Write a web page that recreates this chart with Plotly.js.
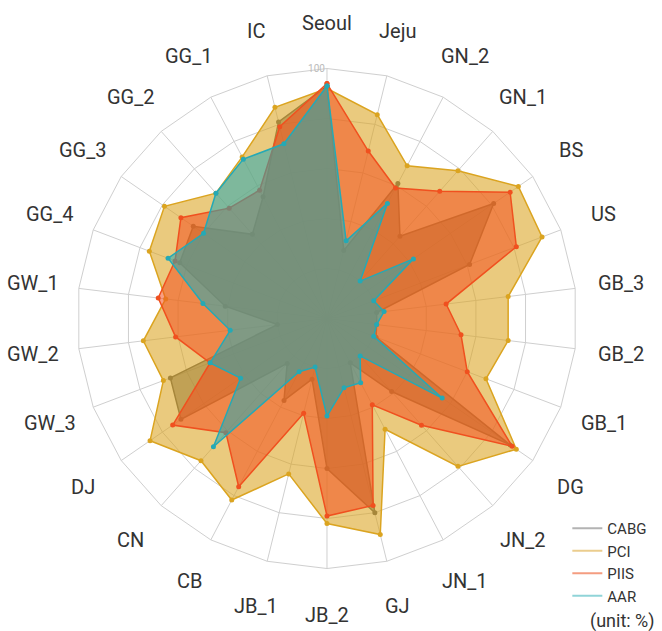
<!DOCTYPE html>
<html><head><meta charset="utf-8">
<script src="https://cdn.plot.ly/plotly-3.0.1.min.js"></script>
<style>html,body{margin:0;padding:0;background:#fff}</style>
</head><body><div id="chart" style="width:662px;height:631px"></div>
<script>
const regions = ['Seoul','Jeju','GN_2','GN_1','BS','US','GB_3','GB_2','GB_1','DG','JN_2','JN_1','GJ','JB_2','JB_1','CB','CN','DJ','GW_3','GW_2','GW_1','GG_4','GG_3','GG_2','GG_1','IC'];
const cabg = [93, 28, 61, 44, 81, 61, 20, 20, 21, 89, 39, 20, 80, 60, 25, 37, 24, 71, 67, 20, 41, 63, 65, 45, 55, 81];
const pci  = [92, 84, 69, 79, 93, 92, 73, 73, 68, 92, 79, 50, 89, 82, 64, 82, 76, 86, 70, 74, 65, 76, 79, 67, 73, 87];
const piis = [94, 69, 59, 68, 89, 81, 48, 54, 60, 90, 57, 39, 77, 79, 39, 76, 61, 75, 50, 61, 68, 65, 71, 59, 58, 79];
const aar  = [93, 32, 52, 20, 42, 20, 23, 20, 20, 56, 20, 29, 28.5, 39, 20, 24, 68.5, 42, 50, 39, 50, 68, 60, 67, 72, 72];
const seriesNames = ['CABG','PCI','PIIS','AAR'];
const seriesValues = [cabg, pci, piis, aar];
const radialTicks = [0, 20, 40, 60, 80, 100];
const radialTickText = ['', '', '', '', '', '100'];

const lineColors = ['#5e5e5e','#DBA420','#F0501F','#25A9B5'];
const fillColors = ['rgba(88,88,88,0.58)','rgba(219,164,32,0.58)','rgba(242,80,31,0.55)','rgba(37,169,181,0.55)'];
const legendColors = ['#b3b3b3','#ebcd8e','#f49d80','#90d4d8'];
const FONT = 'Roboto, "Liberation Sans", sans-serif';

const W = 662, H = 631;
const DOM_X = [0.1163, 0.8716], DOM_Y = [0.0990, 0.8914];
const CX = (DOM_X[0] + DOM_X[1]) / 2 * W;
const CY = H - (DOM_Y[0] + DOM_Y[1]) / 2 * H;
const LABEL_R = 296;

const traces = [];
seriesValues.forEach((vals, i) => {
  traces.push({
    type: 'scatterpolar',
    r: vals.concat([vals[0]]),
    theta: regions.concat([regions[0]]),
    mode: 'lines+markers',
    fill: 'toself',
    fillcolor: fillColors[i],
    line: {color: lineColors[i], width: 1.5},
    marker: {color: lineColors[i], size: 5},
    name: seriesNames[i],
    showlegend: false,
    hoverinfo: 'skip'
  });
});
seriesNames.forEach((n, i) => {
  traces.push({
    type: 'scatterpolar', r: [null], theta: [null], mode: 'lines',
    line: {color: legendColors[i], width: 2}, name: n, showlegend: true, hoverinfo: 'skip'
  });
});

const annotations = regions.map((name, i) => {
  const a = i * 2 * Math.PI / regions.length;
  return {
    text: name, xref: 'paper', yref: 'paper',
    x: (CX + LABEL_R * Math.sin(a)) / W,
    y: 1 - (CY - LABEL_R * Math.cos(a)) / H,
    xanchor: 'center', yanchor: 'middle', showarrow: false,
    font: {size: 20, family: FONT, color: '#333'}
  };
});
annotations.push({
  text: '(unit: %)', xref: 'paper', yref: 'paper', x: 0.992, y: (H - 621) / H,
  xanchor: 'right', yanchor: 'middle', showarrow: false,
  font: {size: 18, family: FONT, color: '#333'}
});

const layout = {
  width: W, height: H,
  margin: {l: 0, r: 0, t: 0, b: 0},
  paper_bgcolor: '#ffffff',
  font: {family: FONT, color: '#333'},
  showlegend: true,
  legend: {x: 0.857, y: (H - 512) / H, xanchor: 'left', yanchor: 'top',
           font: {size: 15, family: FONT, color: '#333'}, bgcolor: 'rgba(0,0,0,0)', tracegroupgap: 0},
  polar: {
    domain: {x: DOM_X, y: DOM_Y},
    bgcolor: '#ffffff',
    gridshape: 'linear',
    angularaxis: {
      type: 'category', categoryarray: regions, rotation: 90, direction: 'clockwise',
      showticklabels: false, ticks: '',
      showline: true, linecolor: '#cfcfcf', linewidth: 1, gridcolor: '#cfcfcf', gridwidth: 1
    },
    radialaxis: {
      range: [0, 100], tickvals: radialTicks, ticktext: radialTickText,
      angle: 90, side: 'counterclockwise', tickangle: 90, showline: false, ticks: '',
      gridcolor: '#cfcfcf', gridwidth: 1,
      tickfont: {size: 10, color: '#bbbbbb', family: FONT}
    }
  },
  annotations: annotations
};

Plotly.newPlot('chart', traces, layout, {staticPlot: true, displayModeBar: false});
</script>
</body></html>
